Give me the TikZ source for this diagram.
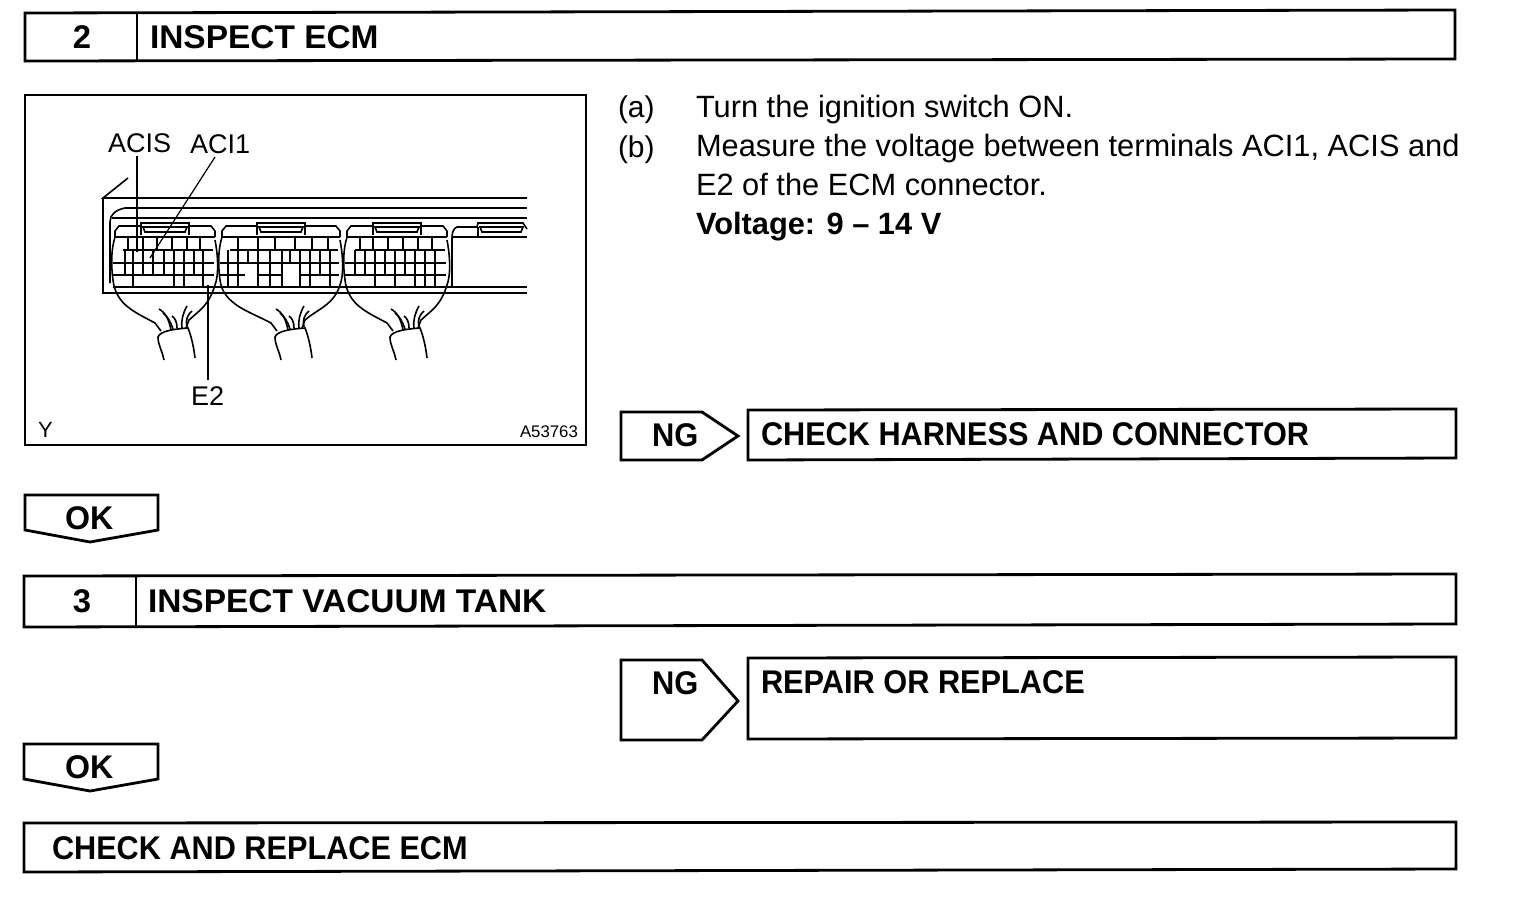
\documentclass[tikz,border=0pt]{standalone}
\usepackage{fontspec}
\usepackage{graphicx}
\setmainfont{Liberation Sans}
\newcommand{\sx}[2]{\scalebox{#1}[1]{#2}}
\begin{document}
\begin{tikzpicture}[x=0.5pt,y=-0.5pt,
  frame/.style={draw=black,line width=1.4pt,line join=miter},
  bold/.style={anchor=base west,inner sep=0,outer sep=0,font=\fontsize{16.4}{18}\selectfont\bfseries},
  num/.style={anchor=base,inner sep=0,outer sep=0,font=\fontsize{16.4}{18}\selectfont\bfseries},
  body/.style={anchor=base west,inner sep=0,outer sep=0,font=\fontsize{15.4}{18}\selectfont},
  lab/.style={anchor=base west,inner sep=0,outer sep=0,font=\fontsize{13.5}{16}\selectfont},
  ln/.style={line width=0.8pt},
  thin2/.style={line width=0.6pt},
  hv/.style={line width=1.2pt}]
\useasboundingbox (0,0) rectangle (1520,900);
\fill[white] (0,0) rectangle (1520,900);

% step 2 header
\draw[frame] (25,13) -- (1455,10) -- (1455,59) -- (25,61) -- cycle;
\draw[frame] (137,12) -- (137,61);
\node[num] (n2) at (82,48) {2};
\node[bold] (t2) at (150,48) {\sx{1.02}{INSPECT ECM}};

% illustration frame
\draw[frame] (25,95) rectangle (586,445);
\node[lab] (acis) at (108,152) {ACIS};
\node[lab] (aci1) at (190,153) {ACI1};
\node[lab] (e2) at (191,405) {E2};
\node[lab,font=\fontsize{11}{13}\selectfont] (y) at (38,437) {Y};
\node[lab,font=\fontsize{8.4}{10}\selectfont] (code) at (520,437) {A53763};

% ECU housing
\draw[ln] (128,178) -- (103,198) -- (527,198);
\draw[ln] (103,198) -- (103,293) -- (527,293);
\draw[ln] (125,208) -- (527,208);
\draw[ln] (125,208) .. controls (115,210) and (110,215) .. (110,222) -- (110,283);
\draw[ln] (112,218) -- (527,218);
\draw[ln] (113,287) -- (527,287);

% connector: {x0}{width}{top verticals}{short verticals}{long verticals}
\newcommand{\conn}[5]{%
  \pgfmathsetmacro{\xa}{#1}\pgfmathsetmacro{\xb}{#1+#2}\pgfmathsetmacro{\xk}{#1+#2/2}%
  \fill[white] (\xa+2,226) rectangle (\xb-2,286);
  \draw[ln] (\xa+2,237) -- (\xa+2,231) -- (\xa+6,226) -- (\xk-24,226) -- (\xk-24,223) -- (\xk+24,223) -- (\xk+24,226) -- (\xb-6,226) -- (\xb-2,231) -- (\xb-2,237);
  \draw[ln] (\xk-22,227) -- (\xk+22,227) -- (\xk+20,232) -- (\xk-20,232) -- cycle;
  \draw[ln] (\xk-24,226) -- (\xk-24,235);
  \draw[ln] (\xk+24,226) -- (\xk+24,235);
  \draw[thin2] (\xa+2,237) -- (\xb-2,237);
  \draw[thin2] (\xa+10,250) -- (\xb-4,250);
  \draw[hv] (\xa,263) -- (\xb-3,263);
  \draw[hv] (\xa,275) -- (\xb-3,275);
  \draw[hv] (\xa+4,287) -- (\xb-3,287);
  \foreach \v in {#3} \draw[ln] (\v,237) -- (\v,250);
  \foreach \v in {#4} \draw[thin2] (\v,250) -- (\v,275);
  \foreach \v in {#5} \draw[hv] (\v,250) -- (\v,287);
  \draw[ln] (\xa+2,237) .. controls (\xa-2,250) and (\xa-2,265) .. (\xa,280)
     .. controls (\xa+3,305) and (\xk-30,312) .. (\xk-10,323) -- (\xk-4,331);
  \draw[ln] (\xb-2,240) .. controls (\xb+1,255) and (\xb+2,275) .. (\xb-2,285)
     .. controls (\xb-8,305) and (\xk+35,310) .. (\xk+24,320) -- (\xk+21,328);
}
\newcommand{\cable}[1]{%
  \begin{scope}[shift={(#1,0)}]
  \draw[ln] (0,360) .. controls (-2,350) and (-6,345) .. (-6,337) .. controls (-4,331) and (10,329) .. (24,328) .. controls (27,335) and (30,348) .. (31,358);
  \draw[ln] (7,330) .. controls (5,320) and (2,313) .. (-5,309);
  \draw[ln] (9,329) .. controls (7,322) and (3,316) .. (-1,313);
  \draw[ln] (13,328) .. controls (13,322) and (11,318) .. (8,316);
  \draw[ln] (18,328) .. controls (17,320) and (19,313) .. (23,306);
  \draw[ln] (23,327) .. controls (21,320) and (24,314) .. (28,311);
  \end{scope}}
\conn{113}{104}{128,143,157,172,187,200}{125,153,164,194}{133,143,174,184,203}
\conn{220}{122}{238,258,275,295,312,328}{248,290,320}{228,238,258,270,282,300,310,330}
\conn{345}{104}{360,373,388,403,418,432}{355,365,385,405}{375,395,415,425,435}
\cable{164}\cable{281}\cable{396}
% blank blocks of connectors 1 and 2
\fill[white] (245,264) rectangle (257,286);
\fill[white] (283,264) rectangle (299,286);
\fill[white] (134,276) rectangle (163,286);
% fourth connector
\draw[ln] (452,287) -- (452,237) .. controls (452,232) and (454,228) .. (457,227) -- (477,227) -- (478,223) -- (523,223) -- (527,229);
\draw[ln] (480,227) -- (523,227) -- (521,232) -- (482,232) -- cycle;
\draw[ln] (478,227) -- (478,236);
\draw[thin2] (452,237) -- (527,237);

% leaders
\coordinate (acisstart) at (137,156);
\coordinate (acisend) at (137,252);
\coordinate (acistart) at (215,157);
\coordinate (aciend) at (150,258);
\coordinate (e2start) at (208,380);
\coordinate (e2end) at (208,285);
\draw[ln] (acisstart) -- (acisend);
\draw[thin2] (acistart) -- (aciend);
\draw[thin2] (e2start) -- (e2end);

% instructions
\node[body,font=\fontsize{15}{18}\selectfont] (a) at (618,117) {(a)};
\node[body] (a1) at (696,117) {Turn the ignition switch ON.};
\node[body,font=\fontsize{15}{18}\selectfont] (b) at (618,157) {(b)};
\node[body] (b1) at (696,156) {Measure the voltage between terminals ACI1, ACIS and};
\node[body] (b2) at (696,195) {E2 of the ECM connector.};
\node[body,font=\fontsize{15.4}{18}\selectfont\bfseries] (b3) at (696,234) {Voltage: 9 -- 14 V};

% NG 1
\draw[frame] (621,412) -- (702,412) -- (738,436) -- (702,460) -- (621,460) -- cycle;
\node[bold] (ng1) at (652,446) {\sx{.94}{NG}};
\draw[frame] (748,410) -- (1456,409) -- (1456,458) -- (748,460) -- cycle;
\node[bold] (r1) at (761,445) {\sx{.935}{CHECK HARNESS AND CONNECTOR}};

% OK 1
\draw[frame] (25,495) -- (158,495) -- (158,530) -- (90,542) -- (25,530) -- cycle;
\node[bold] (ok1) at (65,529) {\sx{.98}{OK}};

% step 3 header
\draw[frame] (24,576) -- (1456,574) -- (1456,624) -- (24,627) -- cycle;
\draw[frame] (136,576) -- (136,627);
\node[num] (n3) at (82,612) {3};
\node[bold] (t3) at (148,612) {\sx{1.02}{INSPECT VACUUM TANK}};

% NG 2
\draw[frame] (621,660) -- (702,660) -- (738,701) -- (702,740) -- (621,740) -- cycle;
\node[bold] (ng2) at (652,694) {\sx{.94}{NG}};
\draw[frame] (748,658) -- (1456,657) -- (1456,738) -- (748,739) -- cycle;
\node[bold] (r2) at (761,693) {\sx{.937}{REPAIR OR REPLACE}};

% OK 2
\draw[frame] (24,744) -- (158,744) -- (158,779) -- (90,791) -- (24,779) -- cycle;
\node[bold] (ok2) at (65,778) {\sx{.98}{OK}};

% final
\draw[frame] (24,823) -- (1456,822) -- (1456,869) -- (24,872) -- cycle;
\node[bold] (f) at (52,859) {\sx{.935}{CHECK AND REPLACE ECM}};
\end{tikzpicture}
\end{document}
